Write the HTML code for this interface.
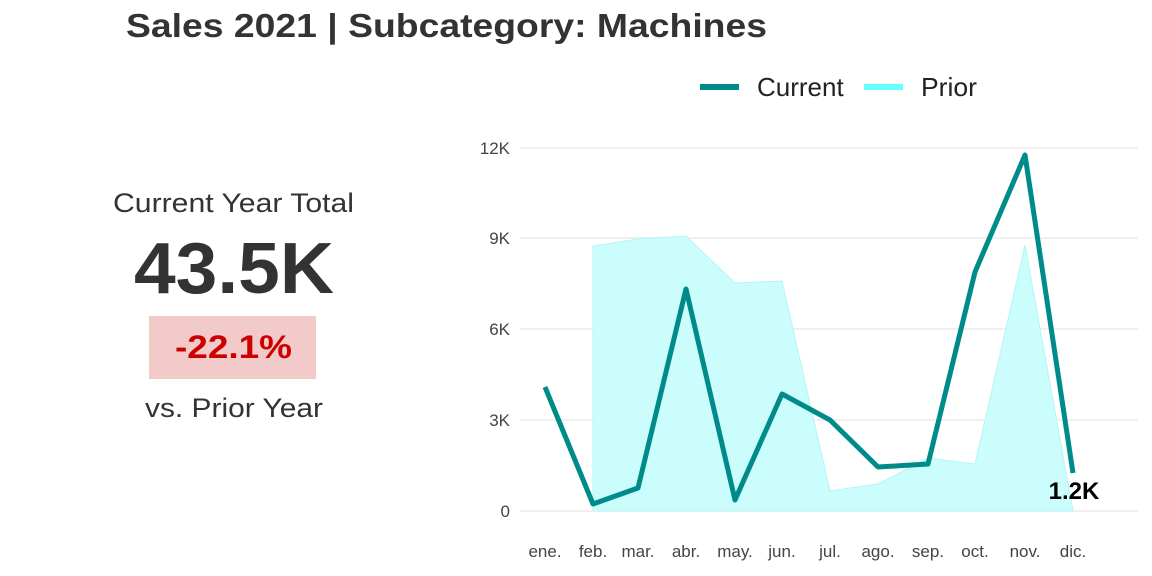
<!DOCTYPE html>
<html><head><meta charset="utf-8"><style>
html,body{margin:0;padding:0;background:#fff;width:1152px;height:576px;overflow:hidden;font-family:"Liberation Sans",sans-serif;}
</style></head><body>
<svg width="1152" height="576" xmlns="http://www.w3.org/2000/svg" font-family="Liberation Sans, sans-serif">
<text x="126" y="37" font-size="33" font-weight="bold" fill="#333" textLength="641" lengthAdjust="spacingAndGlyphs">Sales 2021 | Subcategory: Machines</text>
<line x1="700" y1="87" x2="739" y2="87" stroke="#008b8b" stroke-width="6"/>
<text x="757" y="96" font-size="26" fill="#222">Current</text>
<line x1="864" y1="87" x2="903" y2="87" stroke="#66ffff" stroke-width="6"/>
<text x="921" y="96" font-size="26" fill="#222" textLength="56" lengthAdjust="spacingAndGlyphs">Prior</text>
<text x="113" y="212" font-size="27" fill="#333" textLength="241" lengthAdjust="spacingAndGlyphs">Current Year Total</text>
<text x="134" y="293" font-size="72" font-weight="bold" fill="#333" textLength="200" lengthAdjust="spacingAndGlyphs">43.5K</text>
<rect x="149" y="316" width="167" height="63" fill="#f3caca"/>
<text x="175" y="358" font-size="32" font-weight="bold" fill="#cc0000" textLength="117" lengthAdjust="spacingAndGlyphs">-22.1%</text>
<text x="145" y="417" font-size="27" fill="#333" textLength="178" lengthAdjust="spacingAndGlyphs">vs. Prior Year</text>
<g stroke="#e6e6e6" stroke-width="1.2">
<line x1="520" y1="148" x2="1138" y2="148"/><line x1="520" y1="238" x2="1138" y2="238"/>
<line x1="520" y1="329" x2="1138" y2="329"/><line x1="520" y1="420" x2="1138" y2="420"/>
<line x1="520" y1="511" x2="1138" y2="511"/></g>
<g font-size="17" fill="#444" text-anchor="end">
<text x="510" y="154">12K</text><text x="510" y="244">9K</text><text x="510" y="335">6K</text><text x="510" y="426">3K</text><text x="510" y="517">0</text></g>
<g font-size="17" fill="#444" text-anchor="middle">
<text x="545" y="557">ene.</text><text x="593" y="557">feb.</text><text x="638" y="557">mar.</text><text x="686" y="557">abr.</text><text x="735" y="557">may.</text><text x="782" y="557">jun.</text><text x="830" y="557">jul.</text><text x="878" y="557">ago.</text><text x="928" y="557">sep.</text><text x="975" y="557">oct.</text><text x="1025" y="557">nov.</text><text x="1073" y="557">dic.</text></g>
<polygon points="593,511 593,246 638,239 686,236 735,283 782,281 830,491 878,484 928,458 975,464 1025,245 1073,511" fill="#ccfdfd" stroke="#b5f5f5" stroke-width="1"/>
<polyline points="545,387 593,504 638,488 686,289 735,500 782,394 830,420 878,467 928,464 975,272 1025,155 1073,473" fill="none" stroke="#008b8b" stroke-width="5" stroke-linejoin="round"/>
<text x="1074" y="499" font-size="24" font-weight="bold" fill="#000" text-anchor="middle">1.2K</text>
</svg>
</body></html>
